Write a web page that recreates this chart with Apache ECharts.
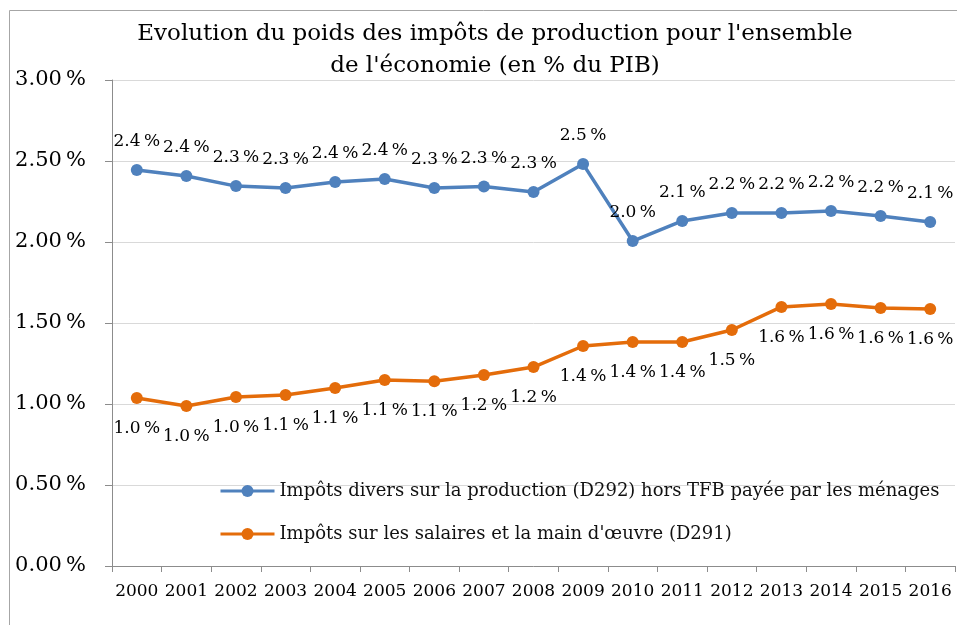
<!DOCTYPE html>
<html><head><meta charset="utf-8">
<script src="https://cdn.jsdelivr.net/npm/echarts@6/dist/echarts.min.js"></script>
<style>html,body{margin:0;padding:0;background:#fff}#c{width:957px;height:625px}</style>
</head><body><div id="c"></div>
<script>
const years = ['2000','2001','2002','2003','2004','2005','2006','2007','2008','2009','2010','2011','2012','2013','2014','2015','2016'];
const divers = [2.444,2.407,2.345,2.333,2.370,2.389,2.333,2.342,2.309,2.481,2.006,2.130,2.179,2.179,2.191,2.160,2.123];
const salaires = [1.037,0.988,1.043,1.056,1.099,1.148,1.140,1.179,1.228,1.358,1.383,1.383,1.457,1.599,1.617,1.593,1.586];
const yTicks = [0, 0.5, 1, 1.5, 2, 2.5, 3];
const nameDivers = "Impôts divers sur la production (D292) hors TFB payée par les ménages";
const nameSalaires = "Impôts sur les salaires et la main d'œuvre (D291)";

const F = 'DejaVu Serif';
const chart = echarts.init(document.getElementById('c'));
const lbl = v => v.value.toFixed(1) + '\u202F%';
chart.setOption({
  animation: false,
  graphic: [{type:'rect', shape:{x:9.5,y:10.5,width:1200,height:1200}, style:{fill:'none', stroke:'#a6a6a6', lineWidth:1}, silent:true}],
  title: {
    text: "Evolution du poids des impôts de production pour l'ensemble\nde l'économie (en % du PIB)",
    left: 490, textAlign: 'center', top: 13,
    textStyle: {fontFamily: F, fontSize: 23, fontWeight: 'normal', color: '#000', lineHeight: 32}
  },
  legend: {
    orient: 'vertical', left: 214, top: 477, itemGap: 25, itemWidth: 54, itemHeight: 15,
    lineStyle: {width: 3},
    textStyle: {fontFamily: F, fontSize: 18, color: '#111'},
    data: [nameDivers, nameSalaires]
  },
  grid: {left: 112, right: 2, top: 80, bottom: 59, containLabel: false},
  xAxis: {
    type: 'category', data: years, boundaryGap: true,
    axisLine: {lineStyle: {color: '#8c8c8c', width: 1}},
    axisTick: {show: true, length: 6, interval: 0, lineStyle: {color: '#8c8c8c'}},
    axisLabel: {fontFamily: F, fontSize: 17, color: '#000', margin: 17, interval: 0}
  },
  yAxis: {
    type: 'value', min: 0, max: 3, interval: 0.5,
    axisLine: {show: true, lineStyle: {color: '#8c8c8c'}},
    axisTick: {show: true, length: 7, lineStyle: {color: '#8c8c8c'}},
    splitLine: {lineStyle: {color: '#d9d9d9', width: 1}},
    axisLabel: {fontFamily: F, fontSize: 21, color: '#000', margin: 26,
      formatter: v => yTicks.indexOf(v) >= 0 ? v.toFixed(2) + '\u202F%' : ''}
  },
  series: [
    {name: nameDivers, type: 'line', data: divers, symbol: 'circle', symbolSize: 12,
     lineStyle: {width: 3.5, color: '#4f81bd'}, itemStyle: {color: '#4f81bd'},
     label: {show: true, position: 'top', distance: 14, fontFamily: F, fontSize: 17, color: '#000', formatter: lbl}},
    {name: nameSalaires, type: 'line', data: salaires, symbol: 'circle', symbolSize: 12,
     lineStyle: {width: 3.5, color: '#e46c0a'}, itemStyle: {color: '#e46c0a'},
     label: {show: true, position: 'bottom', distance: 16, fontFamily: F, fontSize: 17, color: '#000', formatter: lbl}}
  ]
});
</script></body></html>
